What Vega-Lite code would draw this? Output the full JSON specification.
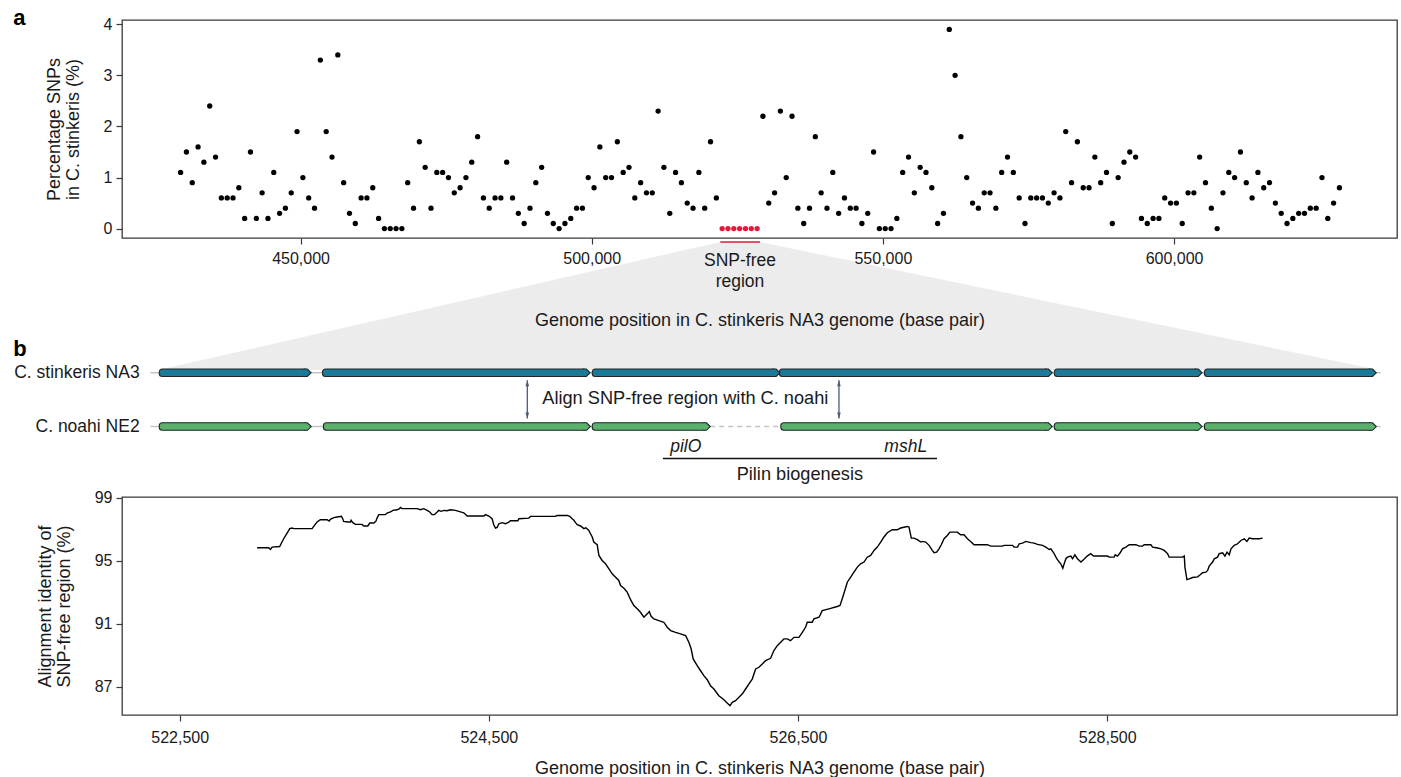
{
"$schema": "https://vega.github.io/schema/vega-lite/v6.json",
"padding": {"left": 12, "top": 6, "right": 3, "bottom": 2},
"background": "white",
"config": {
  "font": "Liberation Sans",
  "view": {"stroke": "#3a3a3a", "strokeWidth": 1.3},
  "axis": {"domain": false, "grid": false, "ticks": true, "tickSize": 6, "tickColor": "#3a3a3a", "tickWidth": 1.2, "labelFontSize": 16, "labelColor": "#1a1a1a", "titleFontSize": 18, "titleFontWeight": "normal", "titleColor": "#1a1a1a", "labelPadding": 4},
  "text": {"fontSize": 17.5, "color": "#1a1a1a"}
},
"datasets": {
  "snp": [
{"p":429400,"v":1.1},{"p":430400,"v":1.5},{"p":431400,"v":0.9},{"p":432400,"v":1.6},{"p":433400,"v":1.3},{"p":434400,"v":2.4},{"p":435400,"v":1.4},{"p":436400,"v":0.6},{"p":437400,"v":0.6},{"p":438400,"v":0.6},
{"p":439400,"v":0.8},{"p":440400,"v":0.2},{"p":441400,"v":1.5},{"p":442400,"v":0.2},{"p":443400,"v":0.7},{"p":444400,"v":0.2},{"p":445400,"v":1.1},{"p":446400,"v":0.3},{"p":447400,"v":0.4},{"p":448400,"v":0.7},
{"p":449400,"v":1.9},{"p":450400,"v":1.0},{"p":451400,"v":0.6},{"p":452400,"v":0.4},{"p":453400,"v":3.3},{"p":454400,"v":1.9},{"p":455400,"v":1.4},{"p":456400,"v":3.4},{"p":457400,"v":0.9},{"p":458400,"v":0.3},
{"p":459400,"v":0.1},{"p":460400,"v":0.6},{"p":461400,"v":0.6},{"p":462400,"v":0.8},{"p":463400,"v":0.2},{"p":464400,"v":0},{"p":465400,"v":0},{"p":466400,"v":0},{"p":467400,"v":0},{"p":468400,"v":0.9},
{"p":469400,"v":0.4},{"p":470400,"v":1.7},{"p":471400,"v":1.2},{"p":472400,"v":0.4},{"p":473400,"v":1.1},{"p":474400,"v":1.1},{"p":475400,"v":1.0},{"p":476400,"v":0.7},{"p":477400,"v":0.8},{"p":478400,"v":1.0},
{"p":479400,"v":1.3},{"p":480400,"v":1.8},{"p":481400,"v":0.6},{"p":482400,"v":0.4},{"p":483400,"v":0.6},{"p":484400,"v":0.6},{"p":485400,"v":1.3},{"p":486400,"v":0.6},{"p":487400,"v":0.3},{"p":488400,"v":0.1},
{"p":489400,"v":0.4},{"p":490400,"v":0.9},{"p":491400,"v":1.2},{"p":492400,"v":0.3},{"p":493400,"v":0.1},{"p":494400,"v":0},{"p":495400,"v":0.1},{"p":496400,"v":0.2},{"p":497400,"v":0.4},{"p":498400,"v":0.4},
{"p":499400,"v":1.0},{"p":500400,"v":0.8},{"p":501400,"v":1.6},{"p":502400,"v":1.0},{"p":503400,"v":1.0},{"p":504400,"v":1.7},{"p":505400,"v":1.1},{"p":506400,"v":1.2},{"p":507400,"v":0.6},{"p":508400,"v":0.9},
{"p":509400,"v":0.7},{"p":510400,"v":0.7},{"p":511400,"v":2.3},{"p":512400,"v":1.2},{"p":513400,"v":0.3},{"p":514400,"v":1.1},{"p":515400,"v":0.9},{"p":516400,"v":0.5},{"p":517400,"v":0.4},{"p":518400,"v":1.1},
{"p":519400,"v":0.4},{"p":520400,"v":1.7},{"p":521400,"v":0.6},{"p":522400,"v":0,"g":"SNP-free"},{"p":523400,"v":0,"g":"SNP-free"},{"p":524400,"v":0,"g":"SNP-free"},{"p":525400,"v":0,"g":"SNP-free"},{"p":526400,"v":0,"g":"SNP-free"},{"p":527400,"v":0,"g":"SNP-free"},{"p":528400,"v":0,"g":"SNP-free"},
{"p":529400,"v":2.2},{"p":530400,"v":0.5},{"p":531400,"v":0.7},{"p":532400,"v":2.3},{"p":533400,"v":1.0},{"p":534400,"v":2.2},{"p":535400,"v":0.4},{"p":536400,"v":0.1},{"p":537400,"v":0.4},{"p":538400,"v":1.8},
{"p":539400,"v":0.7},{"p":540400,"v":0.4},{"p":541400,"v":1.1},{"p":542400,"v":0.3},{"p":543400,"v":0.6},{"p":544400,"v":0.4},{"p":545400,"v":0.4},{"p":546400,"v":0.1},{"p":547400,"v":0.3},{"p":548400,"v":1.5},
{"p":549400,"v":0},{"p":550400,"v":0},{"p":551400,"v":0},{"p":552400,"v":0.2},{"p":553400,"v":1.1},{"p":554400,"v":1.4},{"p":555400,"v":0.7},{"p":556400,"v":1.2},{"p":557400,"v":1.1},{"p":558400,"v":0.8},
{"p":559400,"v":0.1},{"p":560400,"v":0.3},{"p":561400,"v":3.9},{"p":562400,"v":3.0},{"p":563400,"v":1.8},{"p":564400,"v":1.0},{"p":565400,"v":0.5},{"p":566400,"v":0.4},{"p":567400,"v":0.7},{"p":568400,"v":0.7},
{"p":569400,"v":0.4},{"p":570400,"v":1.1},{"p":571400,"v":1.4},{"p":572400,"v":1.1},{"p":573400,"v":0.6},{"p":574400,"v":0.1},{"p":575400,"v":0.6},{"p":576400,"v":0.6},{"p":577400,"v":0.6},{"p":578400,"v":0.5},
{"p":579400,"v":0.7},{"p":580400,"v":0.6},{"p":581400,"v":1.9},{"p":582400,"v":0.9},{"p":583400,"v":1.7},{"p":584400,"v":0.8},{"p":585400,"v":0.8},{"p":586400,"v":1.4},{"p":587400,"v":0.9},{"p":588400,"v":1.1},
{"p":589400,"v":0.1},{"p":590400,"v":1.0},{"p":591400,"v":1.3},{"p":592400,"v":1.5},{"p":593400,"v":1.4},{"p":594400,"v":0.2},{"p":595400,"v":0.1},{"p":596400,"v":0.2},{"p":597400,"v":0.2},{"p":598400,"v":0.6},
{"p":599400,"v":0.5},{"p":600400,"v":0.5},{"p":601400,"v":0.1},{"p":602400,"v":0.7},{"p":603400,"v":0.7},{"p":604400,"v":1.4},{"p":605400,"v":0.9},{"p":606400,"v":0.4},{"p":607400,"v":0},{"p":608400,"v":0.7},
{"p":609400,"v":1.1},{"p":610400,"v":1.0},{"p":611400,"v":1.5},{"p":612400,"v":0.9},{"p":613400,"v":0.6},{"p":614400,"v":1.1},{"p":615400,"v":0.8},{"p":616400,"v":0.9},{"p":617400,"v":0.5},{"p":618400,"v":0.3},
{"p":619400,"v":0.1},{"p":620400,"v":0.2},{"p":621400,"v":0.3},{"p":622400,"v":0.3},{"p":623400,"v":0.4},{"p":624400,"v":0.4},{"p":625400,"v":1.0},{"p":626400,"v":0.2},{"p":627400,"v":0.5},{"p":628400,"v":0.8}
  ],
  "zoom": [{"p":522076,"p2":528895,"v":-0.262},{"p":425571,"p2":635238,"v":-2.768}],
  "freeline": [{"p":522076,"p2":528895,"v":-0.262}],
  "freelbl": [{"p":525461,"v":-0.628,"label":"SNP-free"},{"p":525461,"v":-1.039,"label":"region"}],
  "tagA": [{"p":400674,"v":3.98,"label":"a"}],
  "backbone": [{"p":522310,"p2":530270,"t":1,"k":"line"},{"p":522310,"p2":525932,"t":0,"k":"line"},{"p":525932,"p2":526389,"t":0,"k":"gap"},{"p":526389,"p2":530270,"t":0,"k":"line"}],
  "genes": [
{"p":522368,"p2":523350,"t":1,"g":"NA3"},{"p":523424,"p2":525155,"t":1,"g":"NA3"},{"p":525169,"p2":526383,"t":1,"g":"NA3"},{"p":526379,"p2":528145,"t":1,"g":"NA3"},{"p":528158,"p2":529114,"t":1,"g":"NA3"},{"p":529129,"p2":530241,"t":1,"g":"NA3"},
{"p":522368,"p2":523351,"t":0,"g":"NE2"},{"p":523430,"p2":525157,"t":0,"g":"NE2"},{"p":525169,"p2":525932,"t":0,"g":"NE2"},{"p":526389,"p2":528145,"t":0,"g":"NE2"},{"p":528158,"p2":529114,"t":0,"g":"NE2"},{"p":529129,"p2":530241,"t":0,"g":"NE2"}
  ],
  "arrows": [{"p":524749,"t":0.8625,"t2":0.148},{"p":526765,"t":0.8625,"t2":0.148}],
  "lblB": [{"p":525771,"t":0.505,"label":"Align SNP-free region with C. noahi"},{"p":526512,"t":-0.898,"label":"Pilin biogenesis"}],
  "geneNames": [{"p":525774,"t":-0.375,"label":"pilO"},{"p":527197,"t":-0.375,"label":"mshL"}],
  "operon": [{"p":525626,"p2":527399,"t":-0.595}],
  "genomes": [{"p":522241,"t":1,"label":"C. stinkeris NA3"},{"p":522241,"t":0,"label":"C. noahi NE2"}],
  "tagB": [{"p":521424,"t":1.321,"label":"b"}],
  "identity": [
{"p":523001,"v":95.82},{"p":523076,"v":95.82},{"p":523087,"v":95.71},{"p":523098,"v":95.86},{"p":523147,"v":95.90},{"p":523162,"v":96.18},{"p":523173,"v":96.39},{"p":523190,"v":96.66},{"p":523206,"v":96.92},{"p":523212,"v":97.03},
{"p":523227,"v":97.07},{"p":523238,"v":97.03},{"p":523357,"v":97.03},{"p":523372,"v":97.24},{"p":523389,"v":97.45},{"p":523410,"v":97.60},{"p":523454,"v":97.60},{"p":523467,"v":97.51},{"p":523475,"v":97.62},{"p":523497,"v":97.73},
{"p":523518,"v":97.77},{"p":523546,"v":97.81},{"p":523555,"v":97.66},{"p":523561,"v":97.49},{"p":523587,"v":97.45},{"p":523605,"v":97.45},{"p":523609,"v":97.56},{"p":523620,"v":97.41},{"p":523637,"v":97.30},{"p":523680,"v":97.30},
{"p":523691,"v":97.20},{"p":523717,"v":97.20},{"p":523730,"v":97.39},{"p":523756,"v":97.39},{"p":523769,"v":97.49},{"p":523777,"v":97.70},{"p":523788,"v":97.92},{"p":523831,"v":97.92},{"p":523842,"v":98.02},{"p":523864,"v":98.09},
{"p":523879,"v":98.19},{"p":523907,"v":98.23},{"p":523922,"v":98.30},{"p":523928,"v":98.38},{"p":523939,"v":98.30},{"p":524036,"v":98.30},{"p":524058,"v":98.23},{"p":524079,"v":98.30},{"p":524101,"v":98.19},{"p":524118,"v":98.09},
{"p":524133,"v":97.92},{"p":524148,"v":97.92},{"p":524166,"v":98.09},{"p":524176,"v":98.19},{"p":524191,"v":98.13},{"p":524209,"v":98.19},{"p":524230,"v":98.17},{"p":524252,"v":98.23},{"p":524284,"v":98.19},{"p":524306,"v":98.13},
{"p":524338,"v":98.04},{"p":524360,"v":97.83},{"p":524468,"v":97.83},{"p":524478,"v":97.92},{"p":524500,"v":97.83},{"p":524521,"v":97.66},{"p":524532,"v":97.28},{"p":524543,"v":97.07},{"p":524554,"v":97.11},{"p":524565,"v":97.34},
{"p":524586,"v":97.41},{"p":524608,"v":97.34},{"p":524629,"v":97.45},{"p":524640,"v":97.53},{"p":524688,"v":97.53},{"p":524694,"v":97.66},{"p":524759,"v":97.70},{"p":524770,"v":97.81},{"p":524931,"v":97.81},{"p":524942,"v":97.87},
{"p":525007,"v":97.87},{"p":525024,"v":97.81},{"p":525039,"v":97.66},{"p":525050,"v":97.56},{"p":525061,"v":97.41},{"p":525072,"v":97.28},{"p":525093,"v":97.20},{"p":525115,"v":97.03},{"p":525128,"v":97.09},{"p":525147,"v":96.92},
{"p":525158,"v":96.71},{"p":525169,"v":96.50},{"p":525179,"v":96.18},{"p":525201,"v":96.01},{"p":525212,"v":95.33},{"p":525233,"v":95.01},{"p":525255,"v":94.80},{"p":525277,"v":94.48},{"p":525298,"v":94.16},{"p":525320,"v":93.95},
{"p":525341,"v":93.74},{"p":525352,"v":93.42},{"p":525374,"v":93.25},{"p":525395,"v":93.00},{"p":525417,"v":92.52},{"p":525438,"v":92.15},{"p":525460,"v":91.94},{"p":525481,"v":91.72},{"p":525503,"v":91.41},{"p":525525,"v":91.62},
{"p":525538,"v":91.77},{"p":525550,"v":91.47},{"p":525568,"v":91.30},{"p":525600,"v":91.19},{"p":525632,"v":91.09},{"p":525654,"v":90.77},{"p":525676,"v":90.56},{"p":525708,"v":90.45},{"p":525740,"v":90.35},{"p":525773,"v":90.24},
{"p":525794,"v":89.82},{"p":525809,"v":89.39},{"p":525822,"v":88.76},{"p":525848,"v":88.33},{"p":525870,"v":88.01},{"p":525891,"v":87.70},{"p":525913,"v":87.44},{"p":525934,"v":87.06},{"p":525956,"v":86.85},{"p":525988,"v":86.42},
{"p":526021,"v":86.17},{"p":526042,"v":85.96},{"p":526060,"v":85.79},{"p":526075,"v":86.00},{"p":526096,"v":86.11},{"p":526118,"v":86.32},{"p":526139,"v":86.53},{"p":526161,"v":86.85},{"p":526183,"v":87.17},{"p":526204,"v":87.48},
{"p":526226,"v":88.12},{"p":526247,"v":88.23},{"p":526269,"v":88.44},{"p":526290,"v":88.65},{"p":526323,"v":88.80},{"p":526344,"v":89.29},{"p":526366,"v":89.60},{"p":526388,"v":89.82},{"p":526409,"v":90.03},{"p":526431,"v":90.03},
{"p":526452,"v":89.92},{"p":526474,"v":90.13},{"p":526506,"v":90.13},{"p":526528,"v":90.45},{"p":526549,"v":90.77},{"p":526560,"v":91.09},{"p":526592,"v":91.09},{"p":526603,"v":91.30},{"p":526636,"v":91.41},{"p":526657,"v":91.83},
{"p":526700,"v":91.94},{"p":526754,"v":92.09},{"p":526772,"v":92.15},{"p":526793,"v":92.79},{"p":526819,"v":93.63},{"p":526841,"v":93.95},{"p":526862,"v":94.27},{"p":526884,"v":94.59},{"p":526905,"v":94.80},{"p":526927,"v":94.91},
{"p":526948,"v":95.22},{"p":526970,"v":95.33},{"p":526992,"v":95.65},{"p":527013,"v":95.86},{"p":527035,"v":96.18},{"p":527056,"v":96.50},{"p":527078,"v":96.77},{"p":527110,"v":96.96},{"p":527142,"v":96.96},{"p":527164,"v":97.07},
{"p":527207,"v":97.17},{"p":527218,"v":97.13},{"p":527225,"v":96.81},{"p":527233,"v":96.43},{"p":527250,"v":96.43},{"p":527272,"v":96.33},{"p":527294,"v":96.18},{"p":527304,"v":96.22},{"p":527326,"v":96.18},{"p":527348,"v":95.97},
{"p":527369,"v":95.65},{"p":527380,"v":95.50},{"p":527397,"v":95.54},{"p":527412,"v":95.75},{"p":527427,"v":96.01},{"p":527445,"v":96.39},{"p":527466,"v":96.60},{"p":527483,"v":96.81},{"p":527531,"v":96.81},{"p":527552,"v":96.64},
{"p":527574,"v":96.64},{"p":527596,"v":96.39},{"p":527617,"v":96.22},{"p":527639,"v":96.01},{"p":527725,"v":96.01},{"p":527747,"v":95.92},{"p":527822,"v":95.92},{"p":527834,"v":95.97},{"p":527888,"v":95.97},{"p":527898,"v":95.86},
{"p":527920,"v":95.86},{"p":527931,"v":96.07},{"p":527952,"v":96.11},{"p":527974,"v":96.22},{"p":528006,"v":96.14},{"p":528028,"v":96.11},{"p":528049,"v":96.03},{"p":528082,"v":95.97},{"p":528103,"v":95.86},{"p":528125,"v":95.71},
{"p":528136,"v":95.75},{"p":528157,"v":95.44},{"p":528174,"v":95.12},{"p":528190,"v":94.91},{"p":528200,"v":94.80},{"p":528213,"v":94.52},{"p":528222,"v":94.80},{"p":528233,"v":95.12},{"p":528243,"v":95.22},{"p":528265,"v":95.29},
{"p":528276,"v":95.12},{"p":528291,"v":95.37},{"p":528308,"v":95.12},{"p":528330,"v":94.91},{"p":528347,"v":95.05},{"p":528362,"v":95.22},{"p":528377,"v":95.33},{"p":528394,"v":95.44},{"p":528412,"v":95.29},{"p":528502,"v":95.29},
{"p":528513,"v":95.22},{"p":528545,"v":95.22},{"p":528552,"v":95.37},{"p":528567,"v":95.29},{"p":528584,"v":95.50},{"p":528599,"v":95.75},{"p":528621,"v":95.86},{"p":528643,"v":96.01},{"p":528686,"v":96.01},{"p":528707,"v":95.92},
{"p":528729,"v":95.92},{"p":528740,"v":96.01},{"p":528783,"v":96.01},{"p":528794,"v":95.86},{"p":528826,"v":95.80},{"p":528848,"v":95.75},{"p":528869,"v":95.65},{"p":528891,"v":95.44},{"p":528901,"v":95.22},{"p":528988,"v":95.22},
{"p":528999,"v":95.29},{"p":529003,"v":94.59},{"p":529016,"v":93.80},{"p":529031,"v":93.84},{"p":529052,"v":93.93},{"p":529085,"v":93.97},{"p":529102,"v":94.10},{"p":529117,"v":94.23},{"p":529139,"v":94.27},{"p":529150,"v":94.38},
{"p":529160,"v":94.65},{"p":529182,"v":94.91},{"p":529193,"v":95.12},{"p":529214,"v":95.22},{"p":529225,"v":95.44},{"p":529247,"v":95.50},{"p":529262,"v":95.29},{"p":529275,"v":95.54},{"p":529290,"v":95.37},{"p":529301,"v":95.75},
{"p":529322,"v":95.97},{"p":529344,"v":96.07},{"p":529365,"v":96.28},{"p":529387,"v":96.39},{"p":529404,"v":96.22},{"p":529419,"v":96.43},{"p":529441,"v":96.39},{"p":529484,"v":96.39},{"p":529506,"v":96.43}
  ]
},
"spacing": 4,
"bounds": "flush",
"vconcat": [
  {
    "width": 1275, "height": 218,
    "encoding": {
      "x": {"field": "p", "type": "quantitative", "stack": null, "scale": {"domain": [419338, 638285], "nice": false, "zero": false},
            "axis": {"values": [450000, 500000, 550000, 600000], "format": ",d", "title": "Genome position in C. stinkeris NA3 genome (base pair)", "labelPadding": 6, "titlePadding": 45, "zindex": 2}},
      "y": {"field": "v", "type": "quantitative", "scale": {"domain": [-0.184, 4.084], "nice": false, "zero": false},
            "axis": {"values": [0, 1, 2, 3, 4], "title": ["Percentage SNPs", "in C. stinkeris (%)"], "titlePadding": 21, "titleLineHeight": 19, "zindex": 2}}
    },
    "layer": [
      {"data": {"name": "zoom"}, "mark": {"type": "area", "orient": "horizontal", "color": "#ececec", "zindex": 0}, "encoding": {"x2": {"field": "p2"}}},
      {"data": {"name": "snp"}, "mark": {"type": "circle", "size": 28, "opacity": 1},
       "encoding": {"color": {"condition": {"test": "datum.g === 'SNP-free'", "value": "#e31a38"}, "value": "#000000"}}},
      {"data": {"name": "freeline"}, "mark": {"type": "rule", "color": "#e31a38", "strokeWidth": 1.6}, "encoding": {"x2": {"field": "p2"}}},
      {"data": {"name": "freelbl"}, "mark": {"type": "text", "fontSize": 17.5, "baseline": "middle", "align": "center"}, "encoding": {"text": {"field": "label"}}},
      {"data": {"name": "tagA"}, "mark": {"type": "text", "fontSize": 22, "fontWeight": "bold", "align": "left", "baseline": "alphabetic", "color": "#000"}, "encoding": {"text": {"field": "label"}}}
    ]
  },
  {
    "width": 1275, "height": 251,
    "view": {"stroke": null},
    "encoding": {
      "x": {"field": "p", "type": "quantitative", "scale": {"domain": [522127, 530375], "nice": false, "zero": false}, "axis": null},
      "y": {"field": "t", "type": "quantitative", "scale": {"domain": [-1.143, 3.339], "nice": false, "zero": false}, "axis": null}
    },
    "layer": [
      {"data": {"name": "backbone"}, "mark": {"type": "rule", "color": "#c4c4c4", "strokeWidth": 1.6},
       "encoding": {"x2": {"field": "p2"}, "strokeDash": {"condition": {"test": "datum.k === 'gap'", "value": [5, 4]}, "value": [1, 0]}}},
      {"data": {"name": "genes"}, "mark": {"type": "bar", "size": 7.5, "cornerRadius": 3, "stroke": "#1e2626", "strokeWidth": 1.1, "x2Offset": -4},
       "encoding": {"x2": {"field": "p2"}, "fill": {"field": "g", "type": "nominal", "scale": {"domain": ["NA3", "NE2"], "range": ["#1a7a99", "#5bb06c"]}, "legend": null}}},
      {"data": {"name": "genes"}, "mark": {"type": "point", "filled": true, "opacity": 1, "size": 56, "shape": "M -1 -1 L 0 -1 L 1 0 L 0 1 L -1 1", "stroke": "#1e2626", "strokeWidth": 1.1, "xOffset": -3.75},
       "encoding": {"x": {"field": "p2", "type": "quantitative"}, "fill": {"field": "g", "type": "nominal", "scale": {"domain": ["NA3", "NE2"], "range": ["#1a7a99", "#5bb06c"]}, "legend": null}}},
      {"data": {"name": "arrows"}, "mark": {"type": "rule", "color": "#4a5a7a", "strokeWidth": 1.3},
       "encoding": {"y2": {"field": "t2"}}},
      {"data": {"name": "arrows"}, "mark": {"type": "point", "filled": true, "opacity": 1, "size": 36, "shape": "M 0 -1 L 0.6 1 L -0.6 1 Z", "color": "#4a5a7a", "yOffset": 3}},
      {"data": {"name": "arrows"}, "mark": {"type": "point", "filled": true, "opacity": 1, "size": 36, "shape": "M 0 1 L 0.6 -1 L -0.6 -1 Z", "color": "#4a5a7a", "yOffset": -3},
       "encoding": {"y": {"field": "t2", "type": "quantitative"}}},
      {"data": {"name": "operon"}, "mark": {"type": "rule", "color": "#111111", "strokeWidth": 1.4}, "encoding": {"x2": {"field": "p2"}}},
      {"data": {"name": "lblB"}, "mark": {"type": "text", "fontSize": 18.2, "align": "center", "baseline": "middle"}, "encoding": {"text": {"field": "label"}}},
      {"data": {"name": "geneNames"}, "mark": {"type": "text", "fontSize": 17.5, "fontStyle": "italic", "align": "center", "baseline": "middle"}, "encoding": {"text": {"field": "label"}}},
      {"data": {"name": "genomes"}, "mark": {"type": "text", "fontSize": 17.5, "align": "right", "baseline": "middle"}, "encoding": {"text": {"field": "label"}}},
      {"data": {"name": "tagB"}, "mark": {"type": "text", "fontSize": 22, "fontWeight": "bold", "align": "left", "baseline": "alphabetic", "color": "#000"}, "encoding": {"text": {"field": "label"}}}
    ]
  },
  {
    "width": 1275, "height": 218,
    "data": {"name": "identity"},
    "mark": {"type": "line", "color": "#000000", "strokeWidth": 1.4},
    "encoding": {
      "x": {"field": "p", "type": "quantitative", "scale": {"domain": [522127, 530375], "nice": false, "zero": false},
            "axis": {"values": [522500, 524500, 526500, 528500], "format": ",d", "title": "Genome position in C. stinkeris NA3 genome (base pair)", "labelPadding": 8, "titlePadding": 14}},
      "y": {"field": "v", "type": "quantitative", "scale": {"domain": [85.2, 99.04], "nice": false, "zero": false},
            "axis": {"values": [87, 91, 95, 99], "title": ["Alignment identity of", "SNP-free region (%)"], "titlePadding": 21, "titleLineHeight": 19}}
    }
  }
]
}
